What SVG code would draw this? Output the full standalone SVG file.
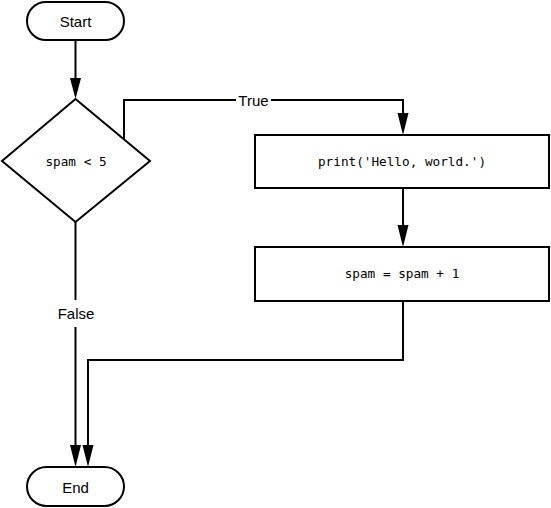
<svg xmlns="http://www.w3.org/2000/svg" width="551" height="508" viewBox="0 0 551 508">
<defs>
<style>
.shape{fill:#fff;stroke:#000;stroke-width:2}
.line{fill:none;stroke:#000;stroke-width:2}
.head{fill:#000;stroke:none}
.lbl{font-family:"Liberation Sans","DejaVu Sans",sans-serif;font-size:15px;fill:#000;text-anchor:middle;dominant-baseline:central}
.code{font-family:"DejaVu Sans Mono","Liberation Mono",monospace;font-size:12.7px;fill:#000;text-anchor:middle;dominant-baseline:central}
</style>
</defs>
<rect width="551" height="508" fill="#fff"/>
<g id="connectors">
<line class="line" x1="75.5" y1="40" x2="75.5" y2="80"/>
<polygon class="head" points="70,78 81,78 75.5,99"/>
<polyline class="line" points="124,139 124,100 236,100"/>
<polyline class="line" points="271,100 403,100 403,115"/>
<polygon class="head" points="397.5,113 408.5,113 403,135"/>
<text class="lbl" x="253.5" y="100">True</text>
<line class="line" x1="403" y1="188" x2="403" y2="227"/>
<polygon class="head" points="397.5,225 408.5,225 403,247"/>
<polyline class="line" points="75.5,222 75.5,300"/>
<text class="lbl" x="76" y="313">False</text>
<polyline class="line" points="75.5,327 75.5,447"/>
<polygon class="head" points="70,445 81,445 75.5,467"/>
<polyline class="line" points="403,301 403,360 88,360 88,447"/>
<polygon class="head" points="82.5,445 93.5,445 88,467"/>
</g>
<g id="start">
<rect class="shape" x="27" y="2" width="97" height="38" rx="19" ry="19"/>
<text class="lbl" x="75.5" y="21">Start</text>
</g>
<g id="decision">
<polygon class="shape" points="75.5,99 150,161 75.5,222 2,161"/>
<text class="code" x="76" y="161">spam &lt; 5</text>
</g>
<g id="print">
<rect class="shape" x="255" y="135" width="294" height="53"/>
<text class="code" x="402" y="161.5">print('Hello, world.')</text>
</g>
<g id="increment">
<rect class="shape" x="255" y="247" width="294" height="54"/>
<text class="code" x="402" y="273.5">spam = spam + 1</text>
</g>
<g id="end">
<rect class="shape" x="27" y="467" width="97" height="39" rx="19.5" ry="19.5"/>
<text class="lbl" x="75.5" y="487">End</text>
</g>
</svg>
